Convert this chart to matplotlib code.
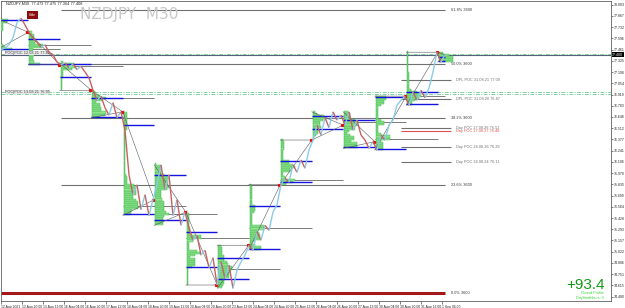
import numpy as np
import matplotlib
matplotlib.use("Agg")
import matplotlib.pyplot as plt
from matplotlib.collections import LineCollection

# NZDJPY M30 closes, one value every 4 px of chart time
price = [77.46, 77.48, 77.52, 77.60, 77.79, 77.84, 77.76, 77.67, 77.60, 77.55,
         77.49, 77.52, 77.43, 77.40, 77.31, 77.28, 77.30, 77.24, 77.29, 77.22,
         77.26, 77.19, 77.12, 76.97,
         76.85, 76.90, 76.76, 76.67, 76.82, 76.64, 76.71, 76.49, 75.95, 75.71,
         75.83, 75.53, 75.71, 75.46, 75.65, 75.83, 76.07, 75.77, 75.95, 75.46,
         75.65, 75.34, 75.50, 75.31, 75.16, 75.22, 74.98, 75.04, 74.83, 74.95,
         74.62, 74.90, 74.70, 74.86, 74.58, 74.80, 74.90, 74.98,
         75.10, 75.04, 75.26, 75.16, 75.34, 75.28, 75.50, 75.59, 75.83, 75.91,
         75.86, 76.07, 75.98, 76.13, 76.03, 76.25, 76.37, 76.55, 76.43, 76.64,
         76.52, 76.71, 76.61, 76.67, 76.55, 76.71, 76.49, 76.61, 76.43, 76.37,
         76.27, 76.35, 76.25, 76.43, 76.37, 76.55, 76.61, 76.79, 76.85, 76.90,
         76.79, 76.95, 76.85, 76.97, 76.88, 77.00, 77.19, 77.43, 77.31, 77.40]
bar_step = 4

time_labels = ["12 Aug 2021", "12 Aug 20:00", "13 Aug 12:00", "16 Aug 04:00",
               "16 Aug 20:00", "17 Aug 12:00", "18 Aug 04:00", "18 Aug 20:00",
               "19 Aug 12:00", "20 Aug 04:00", "20 Aug 20:00", "23 Aug 12:00",
               "24 Aug 04:00", "24 Aug 20:00", "25 Aug 12:00", "26 Aug 04:00",
               "26 Aug 20:00", "27 Aug 12:00", "30 Aug 04:00", "30 Aug 20:00",
               "31 Aug 12:00", "1 Sep 04:00"]

fib_low = 74.52
fib_high = 80.05
fib_pcts = [0.0, 23.6, 38.2, 50.0, 61.8]

pivot_levels = [77.41, 76.95, 76.925]

day_poc_prices = [77.09, 76.865, 76.515, 76.48, 76.29, 76.105]
day_poc_texts = ["DPL POC 31.08.21 77.09", "DPL POC 31.08.20 76.87",
                 "Day POC 27.08.26 76.52", "Day POC 27.08.27 76.48",
                 "Day POC 24.08.26 76.29", "Day POC 24.08.24 76.11"]
naked_poc = [False, False, False, True, False, False]

left_poc_prices = [77.42, 76.95]
left_poc_texts = ["POC|POC 12.08.21 77.42", "POC|POC 13.08.21 76.95"]

quote = "NZDJPY,M30  77.473 77.475 77.364 77.408"
profit = "+93.4"

SMALL = "Liberation Sans"

# ---------------------------------------------------------------
fig = plt.figure(figsize=(6.25, 3.08), dpi=100)
ax = fig.add_axes([1 / 625, 7 / 308, 610 / 625, 300 / 308])
ax.set_xlim(0, 610)
ax.set_ylim(74.427, 78.048)

t = np.arange(len(price)) * bar_step
p = np.array(price)
t_end = t[-1]

# fib levels
for pct in fib_pcts:
    lvl = fib_low + (fib_high - fib_low) * pct / 100
    if pct == 0:
        ax.hlines(lvl, 0, t_end, color="#a31818", lw=2.2, zorder=2)
    else:
        ax.hlines(lvl, 60, t_end, color="#707070", lw=0.8, zorder=2)
    ax.text(t_end + 6, lvl, "%.1f%% 3600" % pct, fontsize=2.8, va="center",
            color="#333333", family=SMALL)

# pivot lines and current price line
for lvl in pivot_levels:
    ax.axhline(lvl, color="#7fd3a0", lw=0.7, ls=(0, (4, 1.5, 1, 1.5)), zorder=2)
ax.axhline(p[-1], color="#56607e", lw=0.8, zorder=2)

# daily sessions: volume profile, value area, poc, range triangle
sess0 = -4.25
sess_len = 31.5
n_sess = int((t_end - sess0) // sess_len) + 1
step = 0.025
for k in range(n_sess):
    s = sess0 + k * sess_len
    e = min(s + sess_len, t_end)
    segs = [i for i in range(len(p) - 1) if s <= t[i] + 2 < s + sess_len]
    if not segs:
        continue
    sp = p[segs[0]:segs[-1] + 2]
    lo, hi = sp.min(), sp.max()
    edges = np.arange(lo, hi + step, step)
    prof = np.zeros(len(edges) - 1)
    for i in segs:
        a, b = sorted((p[i], p[i + 1]))
        if b - a < 1e-9:
            j = min(np.searchsorted(edges, a, side="right") - 1, len(prof) - 1)
            prof[j] += 1
        else:
            ov = np.clip(np.minimum(b, edges[1:]) - np.maximum(a, edges[:-1]), 0, None)
            prof += ov / (b - a)
    centers = (edges[:-1] + edges[1:]) / 2
    widths = prof / prof.max() * 14
    ax.barh(centers, widths, left=s + 0.8, height=step, color="#8fe58f",
            edgecolor="#35b045", lw=0.3, zorder=3)
    order = np.argsort(prof)[::-1]
    cum = np.cumsum(prof[order])
    inside = order[:np.searchsorted(cum, 0.7 * prof.sum()) + 1]
    vah, val = centers[inside].max(), centers[inside].min()
    poc = centers[order[0]]
    ax.hlines([vah, val], s, e, color="#1414e0", lw=1.0, zorder=4)
    ax.hlines(poc, s, min(e + sess_len, t_end), color="#7c7c7c", lw=0.7, zorder=2)
    ax.plot([s, e, s], [hi, sp[-1], lo], color="#5a5a5a", lw=0.4, zorder=4)
    ax.plot(s - 1, sp[0], "s", ms=1.3, color="#e01010", zorder=5)

# price line coloured by direction
pts = np.column_stack([t, p])
segments = np.stack([pts[:-1], pts[1:]], axis=1)
cols = ["#8acbe8" if b >= a else "#c86060" for a, b in zip(p[:-1], p[1:])]
ax.add_collection(LineCollection(segments, colors=cols, lw=1.0, zorder=5))

# prior day poc lines on the right
for lvl, txt, red in zip(day_poc_prices, day_poc_texts, naked_poc):
    c = "#e05050" if red else "#707070"
    ax.hlines(lvl, 400, t_end + 6, color=c, lw=0.8, zorder=2)
    ax.text(t_end + 11, lvl, txt, fontsize=2.8, va="center", color=c,
            family=SMALL)

for lvl, txt in zip(left_poc_prices, left_poc_texts):
    ax.text(4, lvl, txt, fontsize=2.8, va="center", color="#444444",
            family=SMALL,
            bbox=dict(facecolor="#e8e8e8", edgecolor="none", pad=0.3))

# axes styling
ax.yaxis.tick_right()
yt = np.arange(74.48, 78.04, 0.1355)
ax.set_yticks(yt)
ax.set_yticklabels(["%.3f" % v for v in yt], family=SMALL)
ax.set_xticks(np.arange(len(time_labels)) * 21)
ax.set_xticklabels(time_labels, ha="left", family=SMALL)
ax.tick_params(axis="y", labelsize=2.5, length=1.5, width=0.4, pad=0.5,
               colors="#222222")
ax.tick_params(axis="x", labelsize=2.4, length=2, width=0.4, pad=1,
               colors="#222222")
for sp_ in ax.spines.values():
    sp_.set_color("#606060")
    sp_.set_linewidth(0.6)

ax.text(1.002, p[-1], "%.3f" % p[-1], transform=ax.get_yaxis_transform(),
        fontsize=2.5, color="white", va="center", ha="left", family=SMALL,
        bbox=dict(facecolor="black", edgecolor="none", pad=0.4))

fig.text(6 / 625, 1 - 4 / 308, quote, fontsize=2.8, va="center",
         color="#222222", family=SMALL)
fig.text(80 / 625, 1 - 14 / 308, "NZDJPY  M30", fontsize=11, va="center",
         color="#c8c8c8")
fig.text(32.5 / 625, 1 - 15 / 308, "Hide", fontsize=2.5, color="white",
         ha="center", va="center", family=SMALL,
         bbox=dict(facecolor="#8b0c0c", edgecolor="none", pad=1.3))
fig.text(605 / 625, 1 - 285 / 308, profit, fontsize=11, color="#169a16",
         ha="right", va="center", family=SMALL)
fig.text(604 / 625, 1 - 293 / 308, "Closed Profits", fontsize=2.6,
         color="#33d033", ha="right", va="center", family=SMALL)
fig.text(604 / 625, 1 - 298 / 308, "DayStartHours: 0", fontsize=2.6,
         color="#33d033", ha="right", va="center", family=SMALL)

fig.savefig("out.png", dpi=100, facecolor="white")
